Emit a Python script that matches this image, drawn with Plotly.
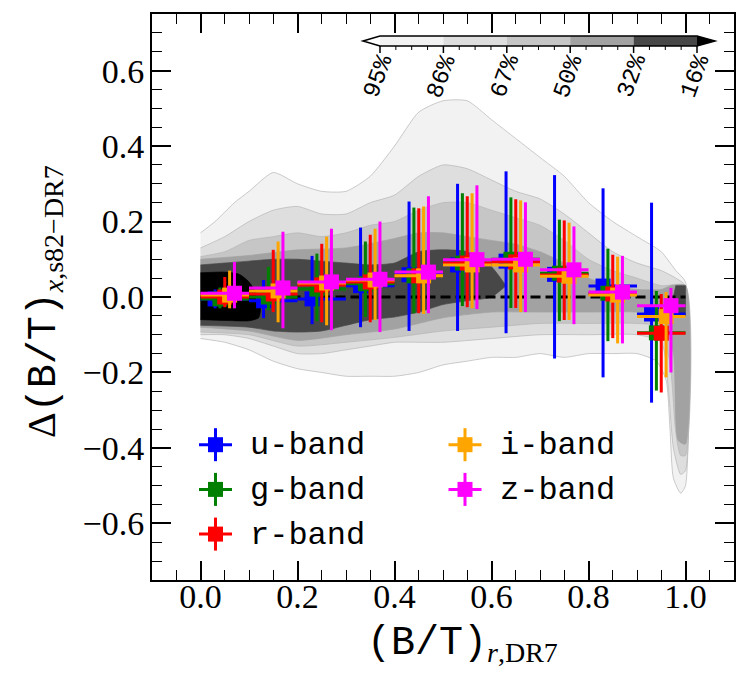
import plotly.graph_objects as go

# ------------------------------------------------------------------ data
BANDS = ["u-band", "g-band", "r-band", "i-band", "z-band"]
BAND_COLORS = ["#0000ff", "#008000", "#ff0000", "#ffa500", "#ff00ff"]

BIN_LO = [0.0, 0.1, 0.2, 0.3, 0.4, 0.5, 0.6, 0.7, 0.8, 0.9]
BIN_HI = [0.1, 0.2, 0.3, 0.4, 0.5, 0.6, 0.7, 0.8, 0.9, 1.0]
BIN_MID = [0.05, 0.15, 0.25, 0.35, 0.45, 0.55, 0.65, 0.75, 0.85, 0.95]

# median offset and upper / lower percentile per bin
U_MED = [-0.005, -0.010, -0.005, 0.030, 0.059, 0.085, 0.095, 0.060, 0.029, -0.045]
U_TOP = [0.020, 0.045, 0.109, 0.184, 0.253, 0.300, 0.333, 0.323, 0.288, 0.250]
U_BOT = [-0.030, -0.056, -0.072, -0.080, -0.090, -0.090, -0.096, -0.163, -0.213, -0.280]

G_MED = [-0.005, 0.000, 0.021, 0.035, 0.056, 0.090, 0.100, 0.063, 0.010, -0.095]
G_TOP = [0.025, 0.080, 0.115, 0.147, 0.237, 0.275, 0.264, 0.205, 0.128, 0.016]
G_BOT = [-0.030, -0.035, -0.064, -0.053, -0.043, -0.024, -0.029, -0.064, -0.117, -0.248]

R_MED = [0.000, 0.008, 0.032, 0.040, 0.056, 0.090, 0.093, 0.058, 0.008, -0.096]
R_TOP = [0.053, 0.125, 0.141, 0.165, 0.235, 0.267, 0.259, 0.203, 0.112, 0.008]
R_BOT = [-0.027, -0.040, -0.067, -0.067, -0.043, -0.027, -0.029, -0.061, -0.109, -0.253]

I_MED = [0.005, 0.016, 0.037, 0.045, 0.056, 0.085, 0.085, 0.055, 0.005, -0.052]
I_TOP = [0.070, 0.147, 0.160, 0.181, 0.240, 0.275, 0.256, 0.197, 0.107, 0.013]
I_BOT = [-0.030, -0.067, -0.075, -0.061, -0.045, -0.030, -0.040, -0.061, -0.123, -0.213]

Z_MED = [0.010, 0.024, 0.040, 0.047, 0.066, 0.099, 0.100, 0.072, 0.013, -0.023]
Z_TOP = [0.093, 0.173, 0.181, 0.200, 0.267, 0.296, 0.251, 0.187, 0.109, 0.024]
Z_BOT = [-0.030, -0.083, -0.088, -0.093, -0.043, -0.032, -0.040, -0.072, -0.123, -0.200]

# density contour levels (enclosed fraction), boundaries
LEVEL_LABELS = ["95%", "86%", "67%", "50%", "32%", "16%"]
LEVEL_COLORS = ["#f2f2f2", "#dedede", "#c6c6c6", "#a2a2a2", "#474747", "#000000"]

C95_UX = [0.0, 0.03, 0.07, 0.1, 0.15, 0.2, 0.25, 0.3, 0.35, 0.4, 0.45, 0.5, 0.55, 0.6, 0.65, 0.7, 0.75, 0.8, 0.85, 0.9, 0.95, 0.98, 1.0]
C95_UY = [0.17, 0.20, 0.25, 0.28, 0.33, 0.30, 0.28, 0.28, 0.32, 0.40, 0.49, 0.52, 0.52, 0.47, 0.42, 0.37, 0.32, 0.25, 0.20, 0.16, 0.12, 0.07, 0.04]
C95_LX = [0.0, 0.05, 0.1, 0.15, 0.2, 0.25, 0.3, 0.35, 0.4, 0.45, 0.5, 0.55, 0.6, 0.65, 0.7, 0.75, 0.8, 0.85, 0.9, 0.94, 0.96, 0.968, 0.975, 0.99, 1.0]
C95_LY = [-0.11, -0.12, -0.14, -0.17, -0.19, -0.20, -0.21, -0.21, -0.21, -0.20, -0.18, -0.17, -0.16, -0.16, -0.15, -0.16, -0.15, -0.15, -0.15, -0.17, -0.22, -0.35, -0.48, -0.52, -0.50]

C86_UX = [0.0, 0.05, 0.1, 0.15, 0.2, 0.25, 0.3, 0.35, 0.4, 0.45, 0.5, 0.55, 0.6, 0.65, 0.7, 0.75, 0.8, 0.85, 0.9, 0.95, 0.98, 1.0]
C86_UY = [0.13, 0.16, 0.20, 0.23, 0.24, 0.22, 0.22, 0.25, 0.27, 0.32, 0.35, 0.34, 0.31, 0.28, 0.26, 0.22, 0.17, 0.12, 0.09, 0.07, 0.05, 0.03]
C86_LX = [0.0, 0.05, 0.1, 0.15, 0.2, 0.25, 0.3, 0.35, 0.4, 0.45, 0.5, 0.6, 0.7, 0.8, 0.9, 0.95, 0.965, 0.975, 0.99, 1.0]
C86_LY = [-0.10, -0.10, -0.11, -0.13, -0.15, -0.15, -0.14, -0.13, -0.12, -0.12, -0.12, -0.11, -0.10, -0.10, -0.10, -0.12, -0.25, -0.40, -0.47, -0.46]

C67_UX = [0.0, 0.05, 0.1, 0.15, 0.2, 0.25, 0.3, 0.35, 0.4, 0.45, 0.5, 0.55, 0.6, 0.65, 0.7, 0.75, 0.8, 0.85, 0.9, 0.95, 1.0]
C67_UY = [0.107, 0.12, 0.15, 0.16, 0.17, 0.16, 0.17, 0.19, 0.20, 0.23, 0.25, 0.25, 0.23, 0.21, 0.19, 0.15, 0.10, 0.07, 0.05, 0.03, 0.03]
C67_LX = [0.0, 0.1, 0.2, 0.3, 0.4, 0.5, 0.6, 0.7, 0.8, 0.9, 0.95, 0.97, 0.98, 0.99, 1.0]
C67_LY = [-0.093, -0.10, -0.13, -0.12, -0.107, -0.09, -0.08, -0.07, -0.07, -0.07, -0.08, -0.20, -0.36, -0.42, -0.42]

C50_UX = [0.0, 0.1, 0.2, 0.3, 0.4, 0.45, 0.5, 0.55, 0.6, 0.65, 0.7, 0.75, 0.8, 0.85, 0.9, 0.95, 0.97, 1.0]
C50_UY = [0.10, 0.11, 0.125, 0.13, 0.155, 0.17, 0.17, 0.16, 0.15, 0.14, 0.12, 0.09, 0.05, 0.03, 0.02, 0.02, 0.03, 0.03]
C50_LX = [0.0, 0.1, 0.2, 0.3, 0.4, 0.5, 0.6, 0.7, 0.8, 0.9, 0.95, 0.975, 0.985, 1.0]
C50_LY = [-0.08, -0.09, -0.115, -0.10, -0.085, -0.055, -0.04, -0.04, -0.04, -0.04, -0.05, -0.15, -0.38, -0.39]

C32_UX = [0.0, 0.05, 0.1, 0.15, 0.2, 0.25, 0.3, 0.35, 0.4, 0.45, 0.5, 0.55, 0.6, 0.63]
C32_UY = [0.085, 0.09, 0.095, 0.10, 0.10, 0.095, 0.09, 0.085, 0.09, 0.12, 0.125, 0.12, 0.08, 0.03]
C32_LX = [0.0, 0.1, 0.15, 0.2, 0.25, 0.3, 0.35, 0.4, 0.45, 0.5, 0.55, 0.6, 0.63]
C32_LY = [-0.075, -0.08, -0.09, -0.093, -0.09, -0.075, -0.06, -0.053, -0.04, -0.02, -0.01, 0.0, 0.03]
C32B_X = [0.975, 0.98, 1.0, 1.0, 0.98]
C32B_Y = [0.0, 0.03, 0.03, -0.05, -0.04]

C16_UX = [0.0, 0.05, 0.08, 0.1, 0.115, 0.125]
C16_UY = [0.064, 0.066, 0.06, 0.04, 0.01, -0.02]
C16_LX = [0.0, 0.05, 0.1, 0.12, 0.125]
C16_LY = [-0.06, -0.062, -0.063, -0.055, -0.02]

X_TICKS = [0.0, 0.2, 0.4, 0.6, 0.8, 1.0]
Y_TICKS = [-0.6, -0.4, -0.2, 0.0, 0.2, 0.4, 0.6]

X_TITLE = "(B/T)"
X_TITLE_SUB = "<i>r</i>,DR7"
Y_TITLE = "(B/T)"
Y_TITLE_SUB = "<i>x</i>,s82−DR7"

# ------------------------------------------------------------------ figure
W, H = 749, 682
L, R, T, B = 152, 15, 14, 102
PW, PH = W - L - R, H - T - B

def fx(px):
    return (px - L) / PW

def fy(py):
    return (H - B - py) / PH

SERIF = "Liberation Serif"
MONO = "Liberation Mono"

fig = go.Figure()

def polygon(ux, uy, lx, ly):
    return list(ux) + list(lx)[::-1], list(uy) + list(ly)[::-1]

levels = [
    (C95_UX, C95_UY, C95_LX, C95_LY),
    (C86_UX, C86_UY, C86_LX, C86_LY),
    (C67_UX, C67_UY, C67_LX, C67_LY),
    (C50_UX, C50_UY, C50_LX, C50_LY),
    (C32_UX, C32_UY, C32_LX, C32_LY),
    (C16_UX, C16_UY, C16_LX, C16_LY),
]
for k, (ux, uy, lx, ly) in enumerate(levels):
    px_, py_ = polygon(ux, uy, lx, ly)
    fig.add_trace(go.Scatter(
        x=px_, y=py_, mode="lines", fill="toself",
        fillcolor=LEVEL_COLORS[k],
        line=dict(color="#b4b4b4" if k < 3 else LEVEL_COLORS[k], width=0.7, shape="spline", smoothing=0.6),
        hoverinfo="skip", showlegend=False))
    if k == 4:
        fig.add_trace(go.Scatter(
            x=C32B_X, y=C32B_Y, mode="lines", fill="toself",
            fillcolor=LEVEL_COLORS[k], line=dict(color=LEVEL_COLORS[k], width=0.7),
            hoverinfo="skip", showlegend=False))

# reference line
fig.add_trace(go.Scatter(x=[0.0, 1.0], y=[0.0, 0.0], mode="lines",
                         line=dict(color="black", width=3, dash="10px,5px"),
                         hoverinfo="skip", showlegend=False))

BAND_SHIFT = [-0.02, -0.01, 0.0, 0.01, 0.02]
meds = [U_MED, G_MED, R_MED, I_MED, Z_MED]
tops = [U_TOP, G_TOP, R_TOP, I_TOP, Z_TOP]
bots = [U_BOT, G_BOT, R_BOT, I_BOT, Z_BOT]
for b in range(5):
    xs = [m + BAND_SHIFT[b] for m in BIN_MID]
    ys = meds[b]
    fig.add_trace(go.Scatter(
        x=xs, y=ys, mode="markers", name=BANDS[b],
        marker=dict(symbol="square", size=15, color=BAND_COLORS[b], line=dict(width=0)),
        error_y=dict(type="data", symmetric=False,
                     array=[t - y for t, y in zip(tops[b], ys)],
                     arrayminus=[y - v for v, y in zip(bots[b], ys)],
                     color=BAND_COLORS[b], thickness=3, width=0),
        error_x=dict(type="data", symmetric=False,
                     array=[h - x for h, x in zip(BIN_HI, xs)],
                     arrayminus=[x - l for l, x in zip(BIN_LO, xs)],
                     color=BAND_COLORS[b], thickness=3, width=0),
        showlegend=False))

shapes = []
annotations = []

# ---- manual legend (two columns)
for i, name in enumerate(BANDS):
    col, row = i // 3, i % 3
    cx = [215.5, 465][col]
    cy = 444.7 + 44.7 * row
    c = BAND_COLORS[i]
    shapes.append(dict(type="line", xref="paper", yref="paper",
                       x0=fx(cx - 16.5), x1=fx(cx + 16.5), y0=fy(cy), y1=fy(cy),
                       line=dict(color=c, width=3)))
    shapes.append(dict(type="line", xref="paper", yref="paper",
                       x0=fx(cx), x1=fx(cx), y0=fy(cy - 16.5), y1=fy(cy + 16.5),
                       line=dict(color=c, width=3)))
    shapes.append(dict(type="rect", xref="paper", yref="paper",
                       x0=fx(cx - 7.5), x1=fx(cx + 7.5), y0=fy(cy - 7.5), y1=fy(cy + 7.5),
                       fillcolor=c, line=dict(width=0)))
    annotations.append(dict(xref="paper", yref="paper", x=fx(cx + 32.5), y=fy(cy + 1),
                            text=name, showarrow=False, xanchor="left", yanchor="middle",
                            font=dict(family=MONO, size=32, color="black")))

# ---- colour bar (extend both)
cb_x0, cb_x1, cb_top, cb_bot = 380, 697, 36, 46
nseg = len(LEVEL_LABELS) - 1
seg_w = (cb_x1 - cb_x0) / nseg
for k in range(nseg):
    shapes.append(dict(type="rect", xref="paper", yref="paper", layer="above",
                       x0=fx(cb_x0 + k * seg_w), x1=fx(cb_x0 + (k + 1) * seg_w),
                       y0=fy(cb_bot), y1=fy(cb_top),
                       fillcolor=LEVEL_COLORS[k], line=dict(width=0)))
cb_mid = (cb_top + cb_bot) / 2
shapes.append(dict(type="path", xref="paper", yref="paper", layer="above",
                   path=f"M {fx(cb_x0)},{fy(cb_top)} L {fx(363)},{fy(cb_mid)} L {fx(cb_x0)},{fy(cb_bot)} Z",
                   fillcolor="#ffffff", line=dict(width=0)))
shapes.append(dict(type="path", xref="paper", yref="paper", layer="above",
                   path=f"M {fx(cb_x1)},{fy(cb_top)} L {fx(715)},{fy(cb_mid)} L {fx(cb_x1)},{fy(cb_bot)} Z",
                   fillcolor=LEVEL_COLORS[-1], line=dict(width=0)))
shapes.append(dict(type="path", xref="paper", yref="paper", layer="above",
                   path=(f"M {fx(363)},{fy(cb_mid)} L {fx(cb_x0)},{fy(cb_top)} L {fx(cb_x1)},{fy(cb_top)} "
                         f"L {fx(715)},{fy(cb_mid)} L {fx(cb_x1)},{fy(cb_bot)} L {fx(cb_x0)},{fy(cb_bot)} Z"),
                   line=dict(color="black", width=1.5)))
for k in range(nseg + 1):
    tx = cb_x0 + k * seg_w
    shapes.append(dict(type="line", xref="paper", yref="paper", layer="above",
                       x0=fx(tx), x1=fx(tx), y0=fy(cb_bot), y1=fy(cb_bot + 7),
                       line=dict(color="black", width=1.5)))
    annotations.append(dict(xref="paper", yref="paper", x=fx(tx - 2), y=fy(76),
                            text=LEVEL_LABELS[k], showarrow=False, textangle=-70,
                            xanchor="center", yanchor="middle",
                            font=dict(family=MONO, size=24, color="black")))
    if k < nseg:
        for m in range(1, 4):
            mx = tx + m * seg_w / 4
            shapes.append(dict(type="line", xref="paper", yref="paper", layer="above",
                               x0=fx(mx), x1=fx(mx), y0=fy(cb_bot), y1=fy(cb_bot + 4),
                               line=dict(color="black", width=1)))

# ---- axis titles
annotations.append(dict(xref="paper", yref="paper", x=fx(462), y=fy(644),
                        text=f"<span style='font-family:{MONO}'>{X_TITLE}</span><sub>{X_TITLE_SUB}</sub>",
                        showarrow=False, xanchor="center", yanchor="middle",
                        font=dict(family=SERIF, size=40, color="black")))
annotations.append(dict(xref="paper", yref="paper", x=fx(44), y=fy(302),
                        text=f"Δ<span style='font-family:{MONO}'>{Y_TITLE}</span><sub>{Y_TITLE_SUB}</sub>",
                        showarrow=False, xanchor="center", yanchor="middle", textangle=-90,
                        font=dict(family=SERIF, size=40, color="black")))

axis_common = dict(
    showgrid=False, zeroline=False, showline=True, linecolor="black", linewidth=2,
    mirror="allticks", ticks="inside", ticklen=19, tickwidth=2, tickcolor="black",
    tickformat=".1f",
    minor=dict(ticks="inside", ticklen=10, tickwidth=1, tickcolor="black", dtick=0.05, showgrid=False),
)

fig.update_layout(
    width=W, height=H,
    margin=dict(l=L, r=R, t=T, b=B, autoexpand=False),
    paper_bgcolor="white", plot_bgcolor="white",
    showlegend=False,
    font=dict(family=SERIF, size=33, color="black"),
    xaxis=dict(range=[-0.1, 1.1], tickvals=X_TICKS, ticklabelstandoff=-15,
               tickfont=dict(family=SERIF, size=34, color="black"),
               **axis_common),
    yaxis=dict(range=[-0.75, 0.75], tickvals=Y_TICKS, ticklabelstandoff=-1,
               tickfont=dict(family=SERIF, size=34, color="black"),
               **axis_common),
    shapes=shapes,
    annotations=annotations,
)

fig.write_html("out.html")
